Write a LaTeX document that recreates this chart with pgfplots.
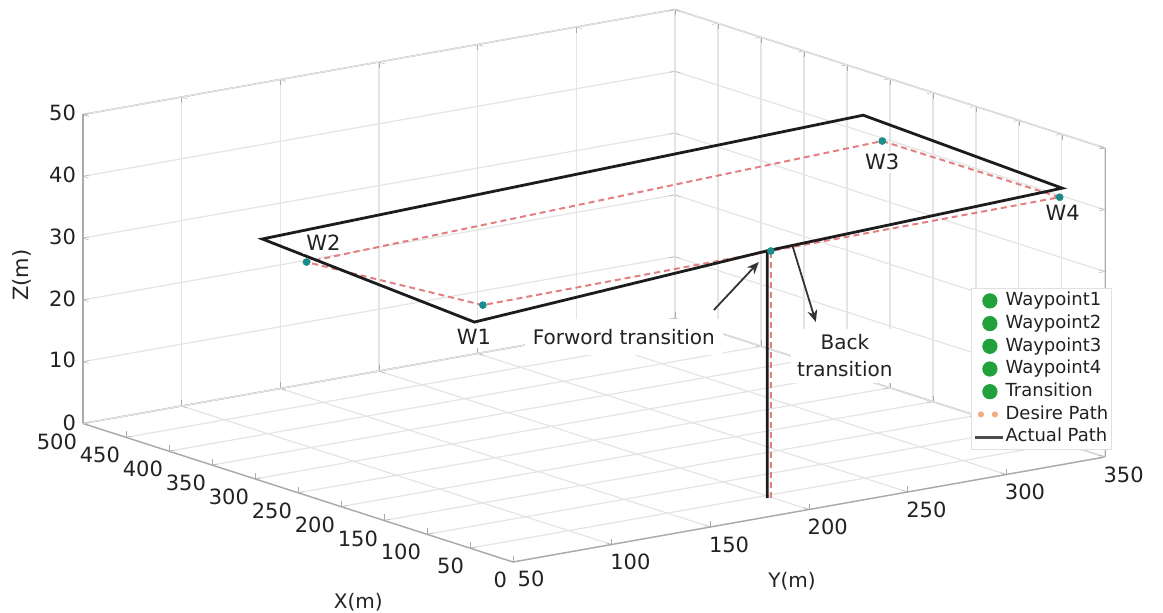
\documentclass[border=0pt]{standalone}
\usepackage{fontspec}
\setmainfont{DejaVu Sans}
\usepackage{pgfplots}
\pgfplotsset{compat=1.18}
\usetikzlibrary{arrows.meta}
\definecolor{gridc}{RGB}{228,228,228}
\definecolor{boxc}{RGB}{170,170,170}
\definecolor{despath}{RGB}{226,128,128}
\definecolor{actpath}{RGB}{28,28,28}
\definecolor{wpteal}{RGB}{25,140,140}
\definecolor{leggreen}{RGB}{34,160,60}
\definecolor{legorange}{RGB}{244,170,130}
\definecolor{txt}{RGB}{34,34,34}
\begin{document}
\begin{tikzpicture}[font=\fontsize{10.5}{12}\selectfont, text=txt]
\begin{axis}[
  x dir=reverse,
  x={(0.43pt,-0.1385pt)},
  y={(0.9865pt,0.175pt)},
  z={(0pt,3.09pt)},
  xmin=0, xmax=500, ymin=50, ymax=350, zmin=0, zmax=50,
  xtick={0,50,...,500}, ytick={50,100,...,350}, ztick={0,10,...,50},
  grid=major,
  major grid style={gridc, line width=0.6pt},
  axis line style={boxc, line width=0.7pt},
  tick style={boxc},
  major tick length=3pt,
  clip=false,
  /pgf/number format/assume math mode=true,
  ticklabel style={font=\fontsize{10.5}{12}\selectfont, text=txt},
  xticklabel style={anchor=north east, xshift=0.5pt, yshift=-1.5pt},
  yticklabel style={xshift=3pt},
  xlabel={X(m)}, ylabel={Y(m)}, zlabel={Z(m)},
  label style={font=\fontsize{10}{12}\selectfont, text=txt},
  x label style={at={(axis cs:180,50,-14.6)}, anchor=center},
  y label style={at={(axis cs:0,191.4,-11.1)}, anchor=center},
  every axis z label/.style={at={(axis cs:571,50,20.8)}, anchor=center, rotate=90},
]
% desired path
\addplot3[despath, line width=1pt, dash pattern=on 3pt off 2pt] coordinates {
  (42,199,0) (42,199,40) (35,50,40) (208,36,40) (252,347,40) (48,348,40) (42,199,40)};
% actual path
\addplot3[actpath, line width=1.4pt] coordinates {
  (44,198,0) (44,198,40) (-1,30,40) (280,45,40) (320,367,40) (68,358,40) (44,198,40)};
% waypoints W1..W4 and transition
\addplot3[only marks, mark=*, mark size=1.7pt, wpteal] coordinates {
  (35,50,40) (208,36,40) (252,347,40) (48,348,40) (42,199,40)};

\node[fill=white, inner sep=1.5pt, xshift=-4.5pt, yshift=-16pt] at (axis cs:35,50,40) {W1};
\node[fill=white, inner sep=1.5pt, xshift=8.5pt, yshift=9.5pt] at (axis cs:208,36,40) {W2};
\node[fill=white, inner sep=1.5pt, xshift=0pt, yshift=-10.5pt] at (axis cs:252,347,40) {W3};
\node[inner sep=1.5pt, xshift=1.5pt, yshift=-8pt] at (axis cs:48,348,40) {W4};
\coordinate (T) at (axis cs:42,199,40);
\coordinate (O) at (axis cs:0,50,0);
\end{axis}
\coordinate (L) at ([shift={(229pt,137pt)}]O);
\node[fill=white, inner xsep=4pt, inner ysep=5pt, font=\fontsize{10}{12}\selectfont] at ([shift={(-73.5pt,-43pt)}]T) {Forword transition};
\node[fill=white, align=center, inner sep=3pt, font=\fontsize{10}{13.5}\selectfont] at ([shift={(37pt,-52.5pt)}]T) {Back\\transition};
\draw[-{Stealth[length=6pt,width=5pt]}, line width=0.9pt, black!80] ([shift={(-28.5pt,-29.5pt)}]T) -- ([shift={(-6pt,-5.5pt)}]T);
\draw[-{Stealth[length=6pt,width=5pt]}, line width=0.9pt, black!80] ([shift={(11pt,2pt)}]T) -- ([shift={(22.5pt,-35.5pt)}]T);
% legend
\begin{axis}[
  at={(L)}, anchor=north west,
  hide axis, scale only axis, width=1cm, height=1cm,
  xmin=0, xmax=1, ymin=0, ymax=1,
  legend image code/.code={\draw[mark repeat=2,mark phase=2,#1] plot coordinates {(0pt,0pt) (7.5pt,0pt) (14pt,0pt)};},
  legend style={at={(0,1)}, anchor=north west, draw=black!12, fill=white,
    font=\fontsize{9}{10}\selectfont, row sep=0.85pt, inner xsep=1pt, inner ysep=1pt,
    nodes={inner sep=0.6pt, text height=7pt, text depth=2.3pt, text=txt}},
  legend cell align=left,
]
\addlegendimage{only marks, mark=*, mark size=3.6pt, leggreen}
\addlegendimage{only marks, mark=*, mark size=3.6pt, leggreen}
\addlegendimage{only marks, mark=*, mark size=3.6pt, leggreen}
\addlegendimage{only marks, mark=*, mark size=3.6pt, leggreen}
\addlegendimage{only marks, mark=*, mark size=3.6pt, leggreen}
\addlegendimage{legend image code/.code={\fill[legorange] (3pt,0) circle (1.3pt) (10pt,0) circle (1.3pt);}}
\addlegendimage{black!70, line width=1.5pt}
\legend{Waypoint1,Waypoint2,Waypoint3,Waypoint4,Transition,Desire Path,Actual Path}
\end{axis}
\pgfresetboundingbox
\path ([shift={(-256.5pt,-25pt)}]O) rectangle ([shift={(325pt,281pt)}]O);
\end{tikzpicture}
\end{document}
